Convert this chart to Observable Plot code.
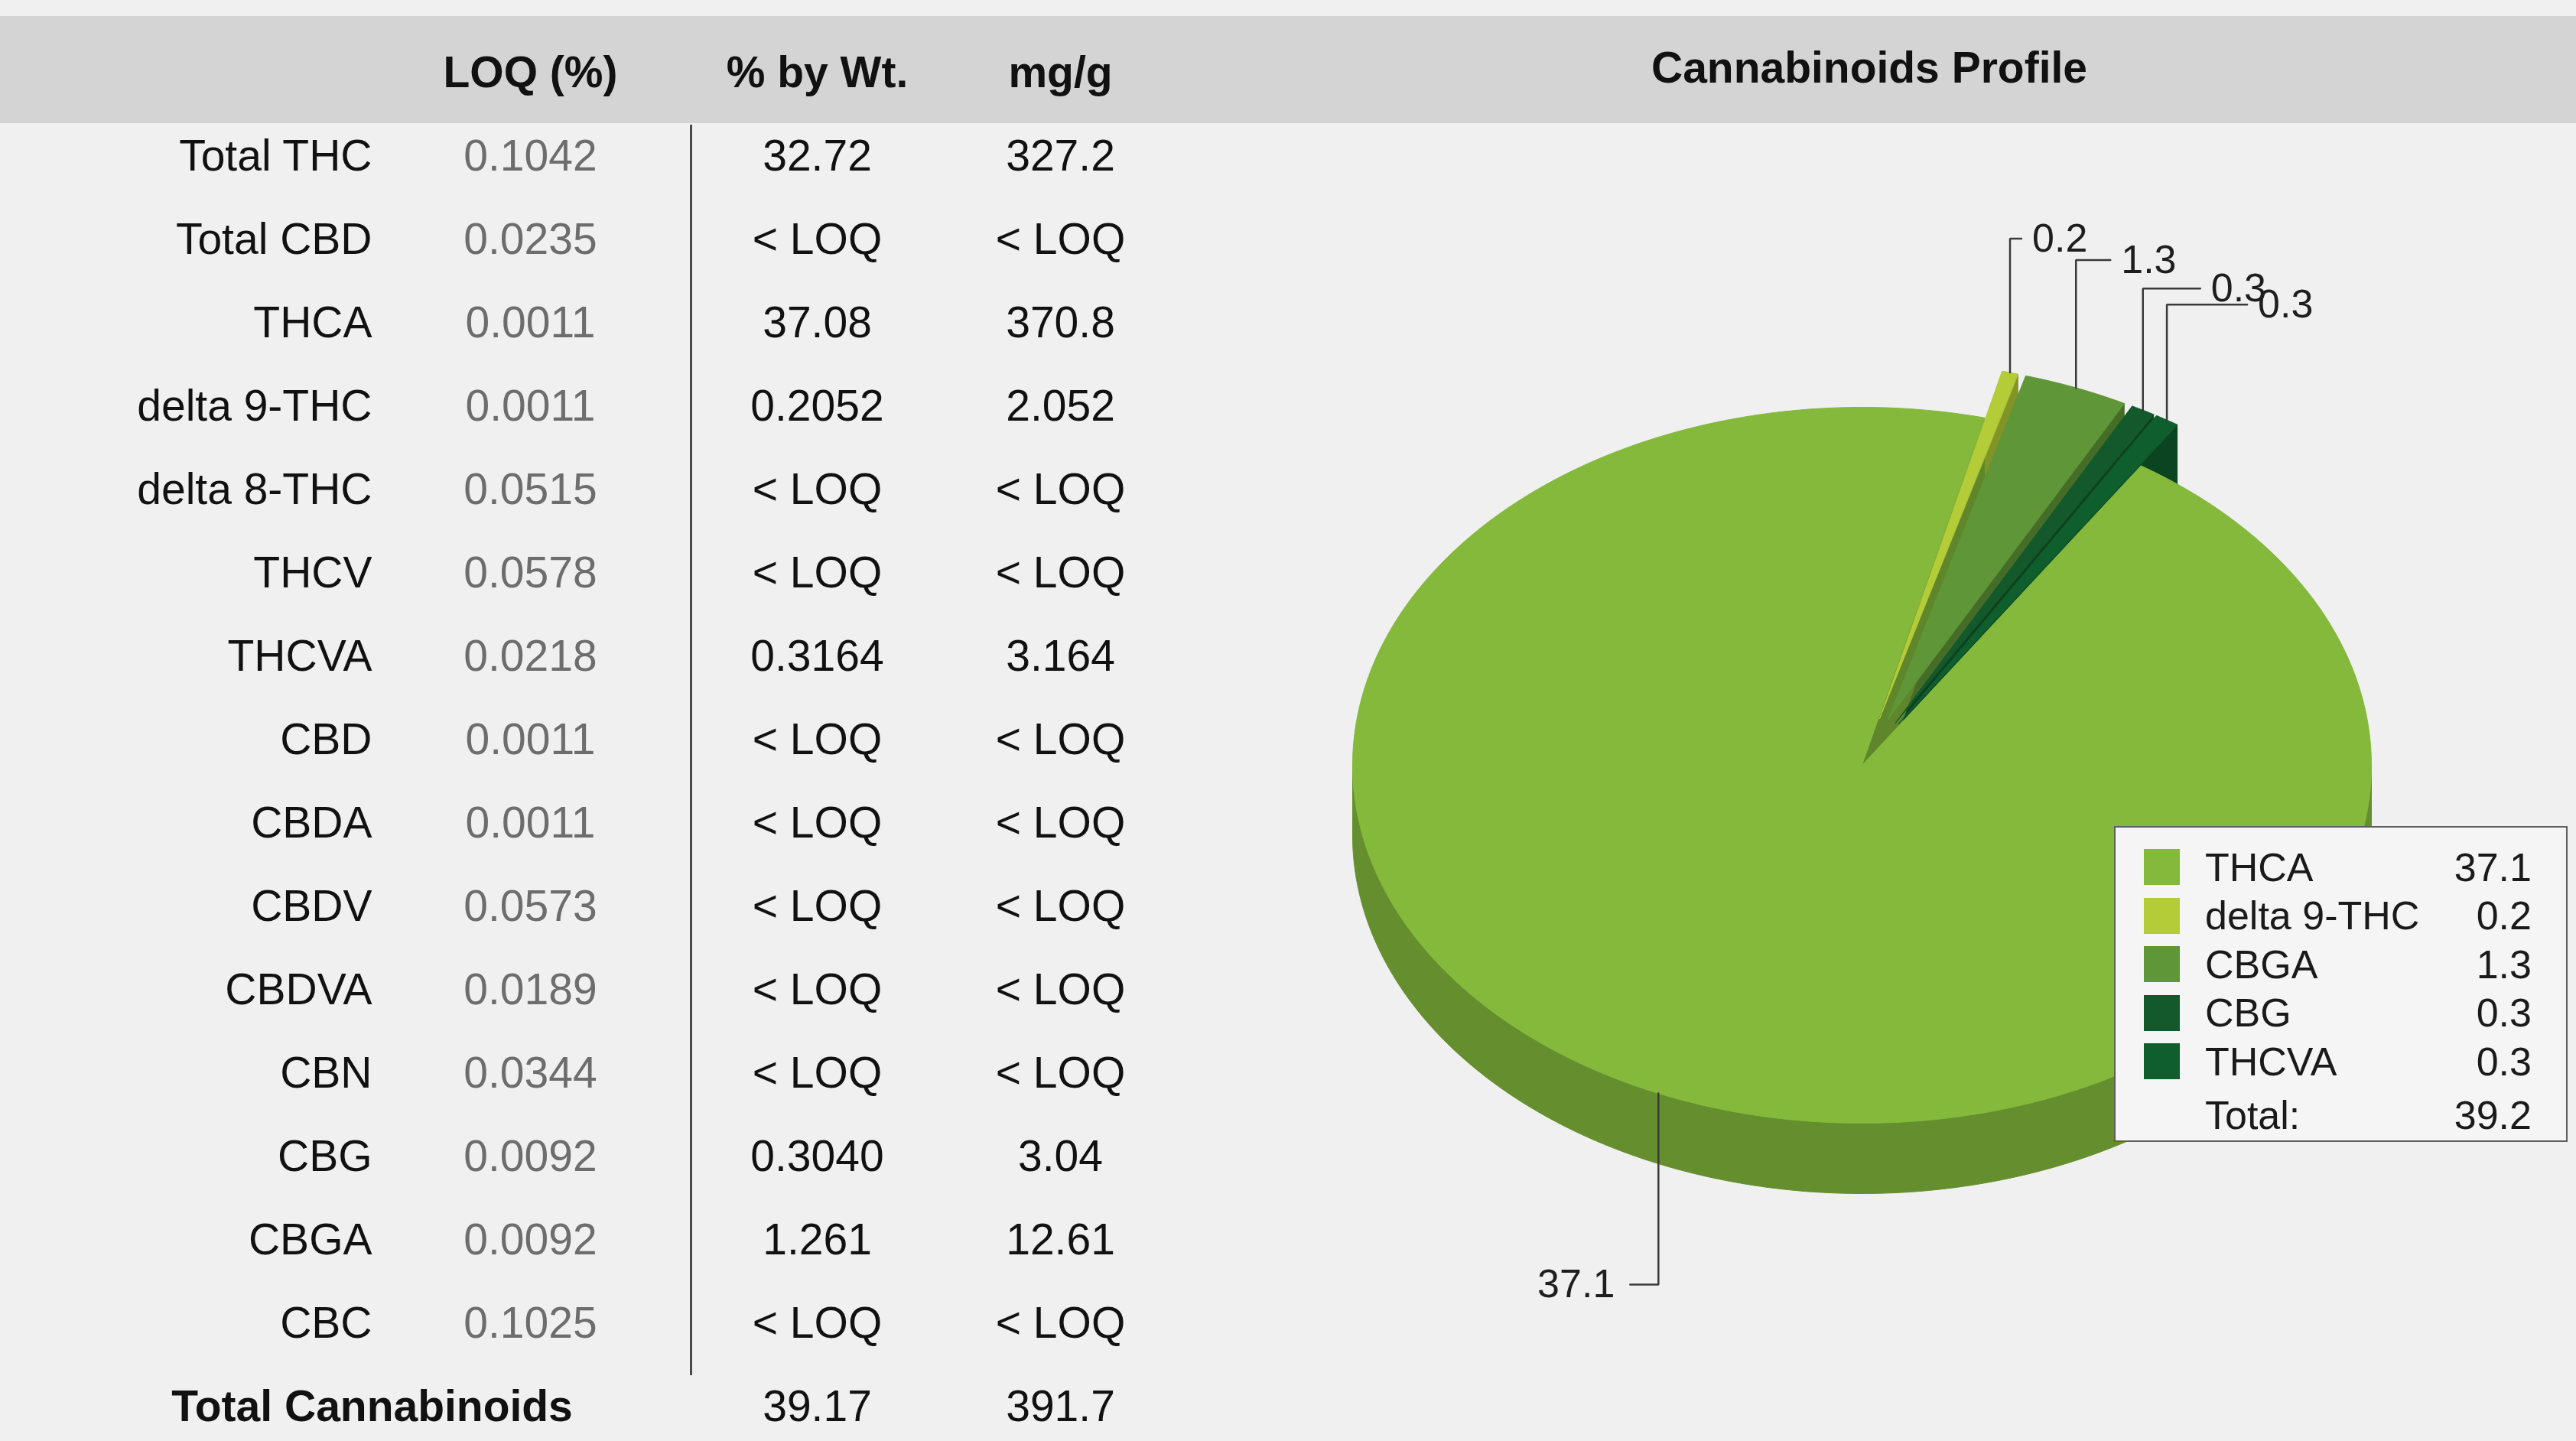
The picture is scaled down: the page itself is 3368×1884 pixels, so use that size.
<!DOCTYPE html>
<html>
<head>
<meta charset="utf-8">
<script src="https://cdn.jsdelivr.net/npm/d3@7"></script>
<script src="https://cdn.jsdelivr.net/npm/@observablehq/plot@0.6"></script>
<style>
  html, body { margin: 0; padding: 0; }
  body {
    width: 3368px; height: 1884px; position: relative; overflow: hidden;
    background: #f0f0f0;
    font-family: "Liberation Sans", Arial, Helvetica, sans-serif;
  }
  #band { position: absolute; left: 0; top: 21px; width: 3368px; height: 140px; background: #d4d4d4; }
  #title {
    position: absolute; left: 1560px; width: 1768px; top: 21px; height: 134px; line-height: 134px;
    text-align: center; font-weight: bold; font-size: 57px; color: #111;
  }
  #table { position: absolute; left: 0; top: 0; width: 1560px; height: 1884px; }
  #pie { position: absolute; left: 1560px; top: 0; width: 1808px; height: 1884px; }
  #legend {
    position: absolute; left: 2764px; top: 1080px; width: 593px; height: 413px; box-sizing: border-box;
    border: 2px solid #5e5e5e; background: #f5f5f5; padding: 20px 45px 0 37px;
    font-size: 52px; color: #1a1a1a;
  }
  .lrow { display: flex; align-items: center; height: 63.5px; }
  .lsw { width: 47px; height: 47px; margin-right: 33px; flex: none; }
  .lname { flex: 1; white-space: nowrap; }
  .lval { text-align: right; }
  .ltotal { margin-top: 7px; }
  svg { overflow: visible; }
</style>
</head>
<body>
<div id="band"></div>
<div id="title">Cannabinoids Profile</div>
<div id="table"></div>
<div id="pie"></div>
<div id="legend"></div>
<script>
// ---------------- data ----------------
const analytes = ["Total THC","Total CBD","THCA","delta 9-THC","delta 8-THC","THCV","THCVA","CBD","CBDA","CBDV","CBDVA","CBN","CBG","CBGA","CBC"];
const loqPct   = ["0.1042","0.0235","0.0011","0.0011","0.0515","0.0578","0.0218","0.0011","0.0011","0.0573","0.0189","0.0344","0.0092","0.0092","0.1025"];
const pctByWt  = ["32.72","< LOQ","37.08","0.2052","< LOQ","< LOQ","0.3164","< LOQ","< LOQ","< LOQ","< LOQ","< LOQ","0.3040","1.261","< LOQ"];
const mgPerG   = ["327.2","< LOQ","370.8","2.052","< LOQ","< LOQ","3.164","< LOQ","< LOQ","< LOQ","< LOQ","< LOQ","3.04","12.61","< LOQ"];
const totalLabel = "Total Cannabinoids";
const totalPct = "39.17";
const totalMg  = "391.7";
const headerLabels = ["LOQ (%)", "% by Wt.", "mg/g"];

const pieNames  = ["THCA", "delta 9-THC", "CBGA", "CBG", "THCVA"];
const pieValues = [37.1, 0.2, 1.3, 0.3, 0.3];
const pieColors = ["#84b93c", "#b3cc37", "#5f9637", "#14592b", "#0f5e2d"];

const FONT = '"Liberation Sans", Arial, Helvetica, sans-serif';

// ---------------- table ----------------
const cols = ["name", "loq", "wt", "mg"];
const colShift = {name: 0, loq: -93, wt: -18, mg: 0};
const rowKeys = ["header", ...analytes, "total"];
const idx = d3.range(analytes.length);

function colText(col, data, opts) {
  return Plot.text(data, {x: () => col, dx: colShift[col], fontSize: 57, ...opts});
}

const table = Plot.plot({
  width: 1560, height: 1884,
  marginTop: 92, marginBottom: 43, marginLeft: 485, marginRight: 174,
  x: {type: "point", domain: cols, padding: 0, axis: null},
  y: {type: "point", domain: rowKeys, padding: 0, axis: null},
  style: {background: "transparent", fontFamily: FONT, overflow: "visible"},
  marks: [
    Plot.ruleX(["loq"], {x: d => d, y1: () => "Total THC", y2: () => "CBC", dx: 117,
      insetTop: -41, insetBottom: -68, stroke: "#4a4a4a", strokeWidth: 3}),
    // header
    ...["loq", "wt", "mg"].map((c, i) =>
      colText(c, [headerLabels[i]], {y: () => "header", text: d => d, fontWeight: "bold", fill: "#111"})),
    // analyte names
    colText("name", analytes, {y: d => d, text: d => d, textAnchor: "end", fill: "#111"}),
    colText("loq", idx, {y: i => analytes[i], text: i => loqPct[i], fill: "#6d6d6d"}),
    colText("wt", idx, {y: i => analytes[i], text: i => pctByWt[i], fill: "#111"}),
    colText("mg", idx, {y: i => analytes[i], text: i => mgPerG[i], fill: "#111"}),
    // total row
    colText("name", [totalLabel], {y: () => "total", text: d => d, fontWeight: "bold", fill: "#111"}),
    colText("wt", [totalPct], {y: () => "total", text: d => d, fill: "#111"}),
    colText("mg", [totalMg], {y: () => "total", text: d => d, fill: "#111"})
  ]
});
document.getElementById("table").appendChild(table);

// ---------------- 3D pie ----------------
const RX = 666, RY = 468;           // pixel radii of the top ellipse
const depth = 92 / RY;              // wall height in y-units
const startDeg = 33.2;              // where the first slice starts (clockwise from top)
const explode = 0.135;
const rad = Math.PI / 180;
const total = d3.sum(pieValues);

let acc = startDeg;
const slices = pieValues.map((v, i) => {
  const span = v / total * 360;
  const a0 = acc, a1 = acc + span; acc = a1;
  const mid = (a0 + a1) / 2;
  const e = v / total < 0.1 ? explode : 0;
  return {name: pieNames[i], value: v, color: pieColors[i], a0, a1, mid,
          ox: e * Math.sin(mid * rad), oy: e * Math.cos(mid * rad)};
});

function rim(s, a, dz = 0) { return {x: s.ox + Math.sin(a * rad), y: s.oy + Math.cos(a * rad) - dz}; }
function arcPts(s, from, to, dz = 0) {
  const n = Math.max(2, Math.ceil(Math.abs(to - from) / 0.5) + 1);
  return d3.range(n).map(k => rim(s, from + (to - from) * k / (n - 1), dz));
}

const walls = [];
const tops = [];
for (const s of slices) {
  const side = d3.color(s.color).darker(0.75).formatHex();
  // outer (front facing) wall pieces
  for (let k = -1; k <= 1; k++) {
    const b0 = Math.max(s.a0, 90 + 360 * k), b1 = Math.min(s.a1, 270 + 360 * k);
    if (b1 > b0) {
      const pts = [...arcPts(s, b0, b1), ...arcPts(s, b0, b1, depth).reverse()];
      walls.push({pts, color: side});
    }
  }
  // radial walls facing the viewer
  const radial = d3.color(s.color).darker(0.9).formatHex();
  if (Math.sin(s.a0 * rad) < 0) {
    walls.push({pts: [{x: s.ox, y: s.oy}, rim(s, s.a0), rim(s, s.a0, depth), {x: s.ox, y: s.oy - depth}], color: radial});
  }
  if (Math.sin(s.a1 * rad) > 0) {
    walls.push({pts: [{x: s.ox, y: s.oy}, rim(s, s.a1), rim(s, s.a1, depth), {x: s.ox, y: s.oy - depth}], color: radial});
  }
  tops.push({pts: [{x: s.ox, y: s.oy}, ...arcPts(s, s.a0, s.a1)], color: s.color});
}
walls.sort((a, b) => d3.mean(b.pts, p => p.y) - d3.mean(a.pts, p => p.y));

const poly = p => Plot.line(p.pts, {x: "x", y: "y", fill: p.color, stroke: p.color, strokeWidth: 1, curve: "linear-closed"});

// leader lines + labels
const fmt = d3.format(".1f");
const leaders = [];
const labelsBack = [], labelsFront = [];
let backCount = 0;
slices.forEach((s, i) => {
  const p = rim(s, s.mid);
  if (Math.cos(s.mid * rad) < 0) {
    const y2 = p.y - 250 / RY, x2 = p.x - 37 / RX;
    leaders.push({id: i, x: p.x, y: p.y}, {id: i, x: p.x, y: y2}, {id: i, x: x2, y: y2});
    labelsFront.push({x: x2, y: y2, text: fmt(s.value)});
  } else {
    const rise = 175 - 8 * backCount;
    const y2 = p.y + rise / RY, x2 = p.x + (15 + 30 * backCount) / RX;
    backCount++;
    leaders.push({id: i, x: p.x, y: p.y}, {id: i, x: p.x, y: y2}, {id: i, x: x2, y: y2});
    labelsBack.push({x: x2, y: y2, text: fmt(s.value)});
  }
});

const pie = Plot.plot({
  width: 1808, height: 1884, margin: 0,
  x: {domain: [-1, 1], range: [874 - RX, 874 + RX], axis: null},
  y: {domain: [-1, 1], range: [1000 + RY, 1000 - RY], axis: null},
  style: {background: "transparent", fontFamily: FONT, overflow: "visible"},
  marks: [
    ...walls.map(poly),
    ...tops.map(poly),
    Plot.line(leaders, {x: "x", y: "y", z: "id", stroke: "#3a3a3a", strokeWidth: 2.5, strokeLinejoin: "miter"}),
    Plot.text(labelsBack, {x: "x", y: "y", text: "text", textAnchor: "start", dx: 14, fontSize: 52, fill: "#1e1e1e"}),
    Plot.text(labelsFront, {x: "x", y: "y", text: "text", textAnchor: "end", dx: -20, fontSize: 52, fill: "#1e1e1e"})
  ]
});
document.getElementById("pie").appendChild(pie);

// ---------------- legend ----------------
const legend = document.getElementById("legend");
pieNames.forEach((n, i) => {
  const row = document.createElement("div");
  row.className = "lrow";
  row.innerHTML = `<div class="lsw" style="background:${pieColors[i]}"></div><div class="lname"></div><div class="lval"></div>`;
  row.querySelector(".lname").textContent = n;
  row.querySelector(".lval").textContent = fmt(pieValues[i]);
  legend.appendChild(row);
});
const trow = document.createElement("div");
trow.className = "lrow ltotal";
trow.innerHTML = `<div class="lsw"></div><div class="lname">Total:</div><div class="lval">${fmt(total)}</div>`;
legend.appendChild(trow);
</script>
</body>
</html>
